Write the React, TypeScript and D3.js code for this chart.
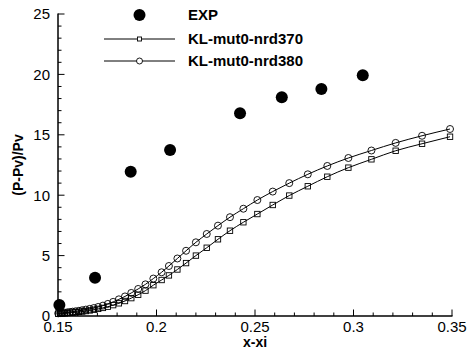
import React from "react";
import * as d3 from "d3";

const expX = [0.1507, 0.1688, 0.1869, 0.2069, 0.2424, 0.2636, 0.2837, 0.3047];
const expY = [0.91, 3.17, 11.95, 13.74, 16.78, 18.1, 18.79, 19.93];

const simX = [
  0.1501, 0.1511, 0.1522, 0.1534, 0.1547, 0.156, 0.1574, 0.1589, 0.1606, 0.1623,
  0.1641, 0.1661, 0.1682, 0.1704, 0.1728, 0.1753, 0.178, 0.1809, 0.184, 0.1872,
  0.1907, 0.1944, 0.1984, 0.2026, 0.2063, 0.2106, 0.215, 0.22, 0.2255, 0.2312,
  0.2373, 0.2441, 0.2512, 0.259, 0.2674, 0.2768, 0.2867, 0.2974, 0.3091, 0.3214,
  0.3348, 0.349,
];
const nrd370Y = [
  0.18, 0.19, 0.21, 0.22, 0.24, 0.26, 0.28, 0.31, 0.34, 0.37,
  0.41, 0.46, 0.52, 0.59, 0.67, 0.77, 0.9, 1.05, 1.24, 1.48,
  1.76, 2.1, 2.55, 2.98, 3.36, 3.85, 4.38, 5.0, 5.65, 6.35,
  7.06, 7.76, 8.44, 9.19, 9.97, 10.74, 11.53, 12.28, 12.97, 13.68,
  14.26, 14.84,
];
const nrd380Y = [
  0.22, 0.24, 0.26, 0.28, 0.3, 0.33, 0.36, 0.39, 0.43, 0.48,
  0.53, 0.59, 0.66, 0.75, 0.86, 1.0, 1.17, 1.38, 1.62, 1.91,
  2.24, 2.62, 3.1, 3.62, 4.14, 4.76, 5.4, 6.1, 6.79, 7.48,
  8.18, 8.88, 9.6, 10.3, 11.0, 11.73, 12.42, 13.08, 13.7, 14.33,
  14.92, 15.48,
];

const xTicks = [0.15, 0.2, 0.25, 0.3, 0.35];
const xTickLabels = ["0.15", "0.2", "0.25", "0.3", "0.35"];
const yTicks = [0, 5, 10, 15, 20, 25];
const yTickLabels = ["0", "5", "10", "15", "20", "25"];
const legendLabels = ["EXP", "KL-mut0-nrd370", "KL-mut0-nrd380"];

const W = 469;
const H = 354;
const FONT = "'Liberation Sans', Arial, sans-serif";

export default function App() {
  const x = d3.scaleLinear().domain([0.15, 0.35]).range([58, 452]);
  const y = d3.scaleLinear().domain([0, 25]).range([316, 14]);

  const xMinor = d3.range(0, 21).map((i) => 0.15 + i * 0.01);
  const yMinor = d3.range(0, 26);

  const line = d3
    .line<[number, number]>()
    .x((d) => x(d[0]))
    .y((d) => y(d[1]))
    .curve(d3.curveMonotoneX);

  const s370: [number, number][] = simX.map((v, i) => [v, nrd370Y[i]]);
  const s380: [number, number][] = simX.map((v, i) => [v, nrd380Y[i]]);

  const x0 = 58;
  const y0 = 316;

  return (
    <svg
      width={W}
      height={H}
      style={{ position: "absolute", left: 0, top: 0, background: "#fff" }}
      fontFamily={FONT}
    >
      <rect width={W} height={H} fill="#fff" />
      {/* curves */}
      <path d={line(s370) || ""} fill="none" stroke="#000" strokeWidth={1} />
      <path d={line(s380) || ""} fill="none" stroke="#000" strokeWidth={1} />
      {s370.map((d, i) => (
        <rect
          key={"sq" + i}
          x={x(d[0]) - 2.7}
          y={y(d[1]) - 2.7}
          width={5.4}
          height={5.4}
          fill="none"
          stroke="#000"
          strokeWidth={0.9}
        />
      ))}
      {s380.map((d, i) => (
        <circle
          key={"ci" + i}
          cx={x(d[0])}
          cy={y(d[1])}
          r={3.5}
          fill="none"
          stroke="#000"
          strokeWidth={0.9}
        />
      ))}
      {/* EXP */}
      {expX.map((v, i) => (
        <circle key={"e" + i} cx={x(v)} cy={y(expY[i])} r={6} fill="#000" />
      ))}

      {/* axes */}
      <line x1={x0} y1={y0} x2={452.5} y2={y0} stroke="#000" strokeWidth={1.5} />
      <line x1={x0} y1={y0} x2={x0} y2={13.5} stroke="#000" strokeWidth={1.5} />
      {xMinor.map((v, i) => (
        <line
          key={"xm" + i}
          x1={x(v)}
          x2={x(v)}
          y1={y0}
          y2={y0 - (i % 5 === 0 ? 6.5 : 3.5)}
          stroke="#000"
          strokeWidth={1}
        />
      ))}
      {yMinor.map((v, i) => (
        <line
          key={"ym" + i}
          x1={x0}
          x2={x0 + (i % 5 === 0 ? 6.5 : 3.5)}
          y1={y(v)}
          y2={y(v)}
          stroke="#000"
          strokeWidth={1}
        />
      ))}
      {xTicks.map((v, i) => (
        <text key={"xt" + i} x={x(v)} y={332} textAnchor="middle" fontSize={15}>
          {xTickLabels[i]}
        </text>
      ))}
      {yTicks.map((v, i) => (
        <text key={"yt" + i} x={50} y={y(v) + 5.3} textAnchor="end" fontSize={15}>
          {yTickLabels[i]}
        </text>
      ))}
      <text x={255} y={347} textAnchor="middle" fontSize={14} fontWeight="bold">
        x-xi
      </text>
      <text
        transform="translate(23,165) rotate(-90)"
        textAnchor="middle"
        fontSize={14}
        fontWeight="bold"
      >
        (P-Pv)/Pv
      </text>

      {/* legend */}
      <circle cx={139.5} cy={15} r={6} fill="#000" />
      <line x1={104} x2={175} y1={39} y2={39} stroke="#000" strokeWidth={1} />
      <rect x={137.5} y={37} width={4} height={4} fill="#fff" stroke="#000" strokeWidth={0.9} />
      <line x1={104} x2={175} y1={61} y2={61} stroke="#000" strokeWidth={1} />
      <circle cx={139.5} cy={61} r={3} fill="#fff" stroke="#000" strokeWidth={0.9} />
      {legendLabels.map((t, i) => (
        <text
          key={"lg" + i}
          x={188}
          y={[20.3, 43.5, 65.5][i]}
          fontSize={15}
          fontWeight="bold"
        >
          {t}
        </text>
      ))}
    </svg>
  );
}
